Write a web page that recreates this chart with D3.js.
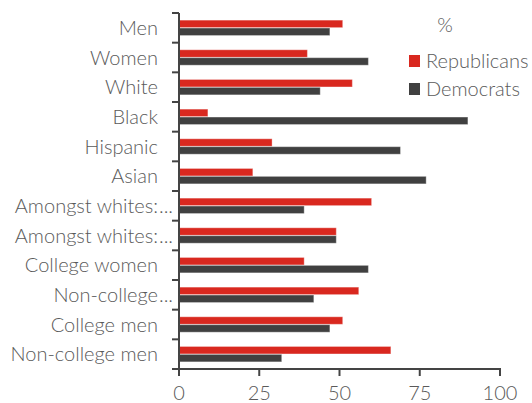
<!DOCTYPE html>
<html>
<head>
<meta charset="utf-8">
<script src="https://cdn.jsdelivr.net/npm/d3@7"></script>
<style>
  html, body { margin: 0; padding: 0; background: #fff; }
  svg text { font-family: Lato, "Open Sans", sans-serif; font-weight: 300; fill: #5a5a5a; }
</style>
</head>
<body>
<svg id="chart" width="532" height="403"></svg>
<script>
// Vote share by group, %
const categories = [
  "Men", "Women", "White", "Black", "Hispanic", "Asian",
  "Amongst whites:", "Amongst whites:", "College women",
  "Non-college", "College men", "Non-college men"
];
const truncated = [false, false, false, false, false, false, true, true, false, true, false, false];
const republicans = [51, 40, 54, 9, 29, 23, 60, 49, 39, 56, 51, 66];
const democrats   = [47, 59, 44, 90, 69, 77, 39, 49, 59, 42, 47, 32];
const seriesNames = ["Republicans", "Democrats"];
const seriesColors = ["#d9281f", "#404040"];
const xTicks = [0, 25, 50, 75, 100];

const svg = d3.select("#chart");
const margin = { left: 179, right: 32, top: 13, bottom: 34 };
const W = 532, H = 403;
const fs = 20;

const x = d3.scaleLinear().domain([0, 100]).range([margin.left, W - margin.right]);
const y = d3.scaleBand().domain(d3.range(categories.length)).range([margin.top, H - margin.bottom]);
const inner = d3.scaleBand().domain([0, 1]).range([0, y.bandwidth()]).paddingOuter(0.9).paddingInner(0.05);

const data = categories.map((c, i) => ({ i, vals: [republicans[i], democrats[i]] }));

// bars
const groups = svg.append("g").selectAll("g").data(data).join("g")
  .attr("transform", d => `translate(0,${y(d.i)})`);
groups.selectAll("rect").data(d => d.vals.map((v, s) => ({ v, s }))).join("rect")
  .attr("x", x(0))
  .attr("y", d => inner(d.s))
  .attr("width", d => x(d.v) - x(0))
  .attr("height", inner.bandwidth())
  .attr("fill", d => seriesColors[d.s])
  .attr("stroke", "rgba(255,255,255,0.35)")
  .attr("stroke-width", 1);

// y axis line and boundary ticks
const axisColor = "#444";
svg.append("line")
  .attr("x1", x(0)).attr("x2", x(0))
  .attr("y1", margin.top).attr("y2", H - margin.bottom)
  .attr("stroke", axisColor).attr("stroke-width", 2);
const bounds = d3.range(categories.length + 1).map(i => margin.top + i * y.step());
svg.append("g").selectAll("line").data(bounds).join("line")
  .attr("x1", x(0) - 7).attr("x2", x(0))
  .attr("y1", d => d).attr("y2", d => d)
  .attr("stroke", axisColor).attr("stroke-width", 2);

// category labels
const labels = svg.append("g").selectAll("g").data(data).join("g")
  .attr("transform", d => `translate(158,${y(d.i) + y.bandwidth() / 2})`);
labels.append("text")
  .attr("text-anchor", "end")
  .attr("dy", "0.35em")
  .attr("font-size", fs)
  .text(d => categories[d.i]);
labels.filter(d => truncated[d.i]).append("text")
  .attr("x", 1)
  .attr("dy", "0.35em")
  .attr("font-size", fs)
  .text("...");

// x axis
const xb = H - margin.bottom;
svg.append("line")
  .attr("x1", x(0) - 1).attr("x2", x(100) + 1)
  .attr("y1", xb).attr("y2", xb)
  .attr("stroke", axisColor).attr("stroke-width", 2);
const xt = svg.append("g").selectAll("g").data(xTicks).join("g")
  .attr("transform", d => `translate(${x(d)},${xb})`);
xt.append("line").attr("y1", 0).attr("y2", 7).attr("stroke", axisColor).attr("stroke-width", 2);
xt.append("text").attr("y", 31).attr("text-anchor", "middle").attr("font-size", fs).text(d => d);

// legend
const lg = svg.append("g");
lg.append("text").attr("x", 445).attr("y", 32).attr("text-anchor", "middle").attr("font-size", fs).text("%");
const items = lg.selectAll("g.item").data(seriesNames).join("g").attr("class", "item")
  .attr("transform", (d, i) => `translate(409,${55 + i * 28})`);
items.append("rect").attr("width", 11).attr("height", 12).attr("fill", (d, i) => seriesColors[i]);
items.append("text").attr("x", 17).attr("y", 6).attr("dy", "0.35em").attr("font-size", fs).text(d => d);
</script>
</body>
</html>
